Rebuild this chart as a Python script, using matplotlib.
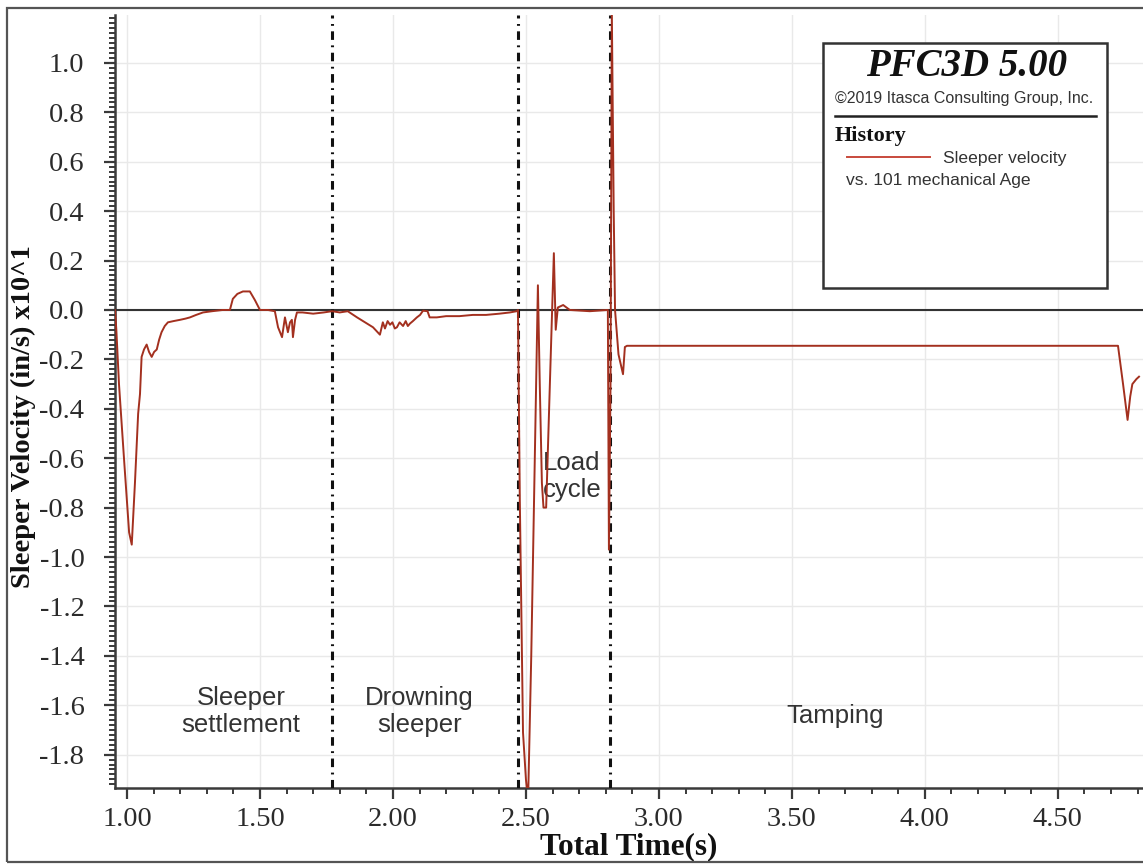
import matplotlib
matplotlib.use("Agg")
import matplotlib.pyplot as plt
from matplotlib.ticker import MultipleLocator, FormatStrFormatter
from matplotlib.patches import Rectangle
from matplotlib.lines import Line2D

# -----------------------
# Data
# -----------------------
time_s = [
    0.955, 0.960, 0.970, 0.990, 1.008, 1.018, 1.030, 1.042, 1.049, 1.055,
    1.064, 1.074, 1.083, 1.093, 1.102, 1.112, 1.121, 1.130, 1.142, 1.154,
    1.175, 1.199, 1.220, 1.237, 1.260, 1.286, 1.320, 1.360, 1.387, 1.398,
    1.415, 1.436, 1.462, 1.481, 1.500, 1.530, 1.556, 1.568, 1.583, 1.594,
    1.605, 1.613, 1.620, 1.624, 1.632, 1.639, 1.660, 1.700, 1.740, 1.771,
    1.800, 1.830, 1.865, 1.895, 1.925, 1.951, 1.962, 1.970, 1.980, 1.989,
    1.998, 2.007, 2.015, 2.025, 2.038, 2.048, 2.056, 2.064, 2.075, 2.090,
    2.102, 2.113, 2.130, 2.138, 2.165, 2.200, 2.250, 2.300, 2.350, 2.400,
    2.440, 2.465, 2.470, 2.477, 2.489, 2.500, 2.508, 2.520, 2.530, 2.545,
    2.552, 2.560, 2.566, 2.576, 2.590, 2.605, 2.612, 2.620, 2.640, 2.665,
    2.740, 2.808, 2.812, 2.818, 2.823, 2.830, 2.835, 2.848, 2.865, 2.872,
    2.880, 4.726, 4.745, 4.762, 4.772, 4.780, 4.795, 4.805,
]
velocity = [
    0.000, -0.080, -0.300, -0.620, -0.900, -0.950, -0.700, -0.420, -0.340, -0.190,
    -0.160, -0.140, -0.170, -0.190, -0.170, -0.160, -0.120, -0.090, -0.065, -0.050,
    -0.045, -0.040, -0.035, -0.030, -0.020, -0.010, -0.005, 0.000, 0.000, 0.045,
    0.065, 0.075, 0.075, 0.040, 0.000, 0.000, -0.005, -0.070, -0.110, -0.030,
    -0.090, -0.050, -0.040, -0.110, -0.040, -0.010, -0.010, -0.015, -0.010, -0.005,
    -0.010, -0.005, -0.030, -0.050, -0.070, -0.100, -0.050, -0.075, -0.045, -0.060,
    -0.050, -0.075, -0.070, -0.050, -0.065, -0.045, -0.065, -0.055, -0.045, -0.030,
    -0.020, -0.003, -0.005, -0.030, -0.030, -0.025, -0.025, -0.020, -0.020, -0.015,
    -0.010, -0.005, 0.000, -0.770, -1.710, -1.900, -1.990, -1.400, -0.800, 0.100,
    -0.300, -0.700, -0.800, -0.800, -0.300, 0.230, -0.080, 0.010, 0.020, 0.000,
    -0.005, 0.000, -0.970, -0.300, 1.200, 0.400, 0.000, -0.180, -0.260, -0.150,
    -0.145, -0.145, -0.300, -0.445, -0.350, -0.300, -0.280, -0.270,
]

phase_bounds = [1.771, 2.470, 2.816]
phase_labels = ["Sleeper\nsettlement", "Drowning\nsleeper", "Load\ncycle", "Tamping"]
phase_t = [1.429, 2.100, 2.673, 3.662]
phase_v = [-1.625, -1.625, -0.675, -1.645]

x_ticks = [1.00, 1.50, 2.00, 2.50, 3.00, 3.50, 4.00, 4.50]
y_ticks = [1.0, 0.8, 0.6, 0.4, 0.2, 0.0, -0.2, -0.4, -0.6, -0.8,
           -1.0, -1.2, -1.4, -1.6, -1.8]

W, H = 1143, 865
LINE_RED = "#a3301f"
INK = "#2b2b2b"

plt.rcParams["axes.unicode_minus"] = False


def px(x, y):
    """pixel position (from top-left) -> figure fraction"""
    return x / W, 1 - y / H


def main():
    fig = plt.figure(figsize=(W / 100, H / 100), dpi=100)
    fig.patch.set_facecolor("white")

    # outer frame around the whole picture
    fig.patches.append(Rectangle(px(7, 862), (W + 20) / W, 854 / H,
                                 transform=fig.transFigure, fill=False,
                                 edgecolor="#555555", lw=1.6))

    ax = fig.add_axes([115 / W, 1 - 788 / H, (W - 115) / W, 773 / H])
    ax.set_xlim(0.955, 4.82)
    ax.set_ylim(-1.935, 1.194)

    # spines / ticks
    for s in ("top", "right"):
        ax.spines[s].set_visible(False)
    for s in ("left", "bottom"):
        ax.spines[s].set_color("#3a3a3a")
        ax.spines[s].set_linewidth(1.8)

    ax.set_xticks(x_ticks)
    ax.set_yticks(y_ticks)
    ax.xaxis.set_minor_locator(MultipleLocator(0.1))
    ax.yaxis.set_minor_locator(MultipleLocator(0.02))
    ax.xaxis.set_major_formatter(FormatStrFormatter("%.2f"))
    ax.yaxis.set_major_formatter(FormatStrFormatter("%.1f"))
    ax.tick_params(which="major", length=8, width=1.6, color="#3a3a3a",
                   labelsize=20.5, labelcolor=INK)
    ax.tick_params(which="minor", length=4, width=1.4, color="#3a3a3a")
    ax.tick_params(axis="y", which="major", pad=14)
    ax.tick_params(axis="x", which="major", pad=6)
    for lab in ax.get_xticklabels() + ax.get_yticklabels():
        lab.set_fontfamily("Liberation Serif")

    ax.grid(True, which="major", color="#e9e9e9", lw=1.0)
    ax.set_axisbelow(True)

    ax.axhline(0, color="#333333", lw=1.5, zorder=2)
    for b in phase_bounds:
        ax.axvline(b, color="#111111", lw=2.2, dashes=(2.8, 1.8, 0.6, 1.8), zorder=3)

    ax.plot(time_s, velocity, color=LINE_RED, lw=1.4, zorder=4, clip_on=True)

    for lab, t, v in zip(phase_labels, phase_t, phase_v):
        ax.text(t, v, lab, ha="center", va="center", fontsize=18.5,
                family="Liberation Sans", color="#333333", linespacing=1.15)

    ax.set_xlabel("Total Time(s)", fontsize=22.5, fontweight="bold",
                  family="Liberation Serif", color="#111111", labelpad=0)
    ax.set_ylabel("Sleeper Velocity (in/s) x10^1", fontsize=20.5, fontweight="bold",
                  family="Liberation Serif", color="#111111")
    ax.yaxis.set_label_coords(-0.077, 0.48)

    # PFC3D legend box
    x0, y0 = px(823, 288)
    x1, y1 = px(1107, 43)
    fig.patches.append(Rectangle((x0, y0), x1 - x0, y1 - y0, transform=fig.transFigure,
                                 facecolor="white", edgecolor="#333333", lw=1.8, zorder=5))
    fig.text(*px(967, 67), "PFC3D 5.00", ha="center", va="center", fontsize=28,
             fontweight="bold", fontstyle="italic", family="Liberation Serif",
             color="#111111", zorder=6)
    fig.text(*px(964, 98), "\u00a92019 Itasca Consulting Group, Inc.", ha="center",
             va="center", fontsize=11.5, family="Liberation Sans", color="#333333", zorder=6)
    fig.lines.append(Line2D([835 / W, 1096 / W], [1 - 116 / H, 1 - 116 / H],
                            transform=fig.transFigure, color="#222222", lw=1.8, zorder=6))
    fig.text(*px(835, 136), "History", ha="left", va="center", fontsize=16,
             fontweight="bold", family="Liberation Serif", color="#111111", zorder=6)
    fig.lines.append(Line2D([847 / W, 930 / W], [1 - 157 / H, 1 - 157 / H],
                            transform=fig.transFigure, color="#c84a3c", lw=1.4, zorder=6))
    fig.text(*px(1005, 159), "Sleeper velocity", ha="center", va="center", fontsize=12.6,
             family="Liberation Sans", color="#333333", zorder=6)
    fig.text(*px(846, 181), "vs. 101 mechanical Age", ha="left", va="center",
             fontsize=12.6, family="Liberation Sans", color="#333333", zorder=6)

    fig.savefig("out.png", dpi=100, facecolor="white")
    plt.close(fig)


if __name__ == "__main__":
    main()
